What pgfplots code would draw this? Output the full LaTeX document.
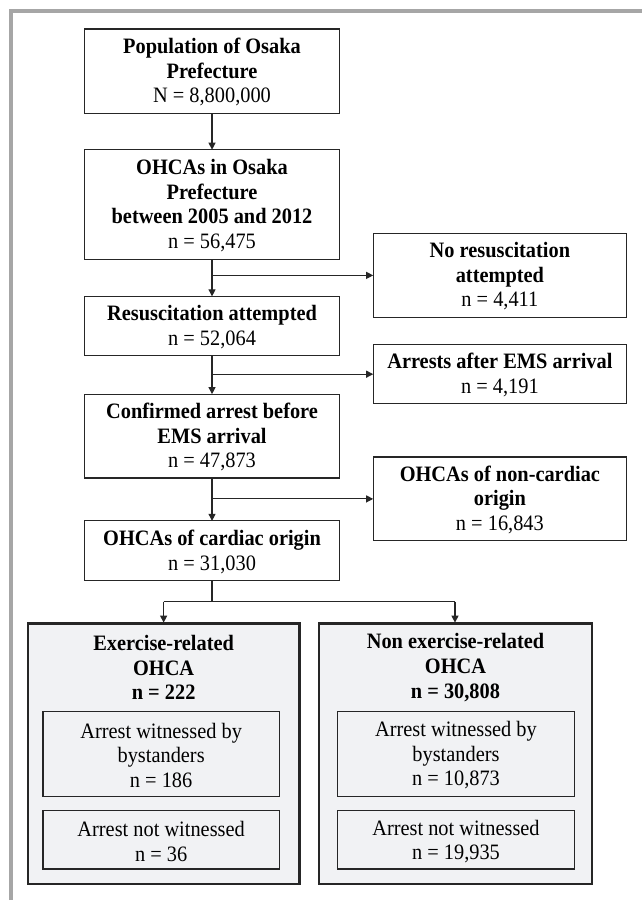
\documentclass[border=0pt]{standalone}
\usepackage{fontspec}
\setmainfont{Liberation Serif}
\usepackage{pgfplots}
\pgfplotsset{compat=1.18}
\usetikzlibrary{arrows.meta}
\definecolor{FrameGray}{HTML}{A6A6A6}
\definecolor{BoxFill}{HTML}{F1F2F4}
\definecolor{LineDark}{HTML}{262626}
\tikzset{
  box/.style={draw=LineDark, line width=0.6pt},
  bigbox/.style={draw=LineDark, line width=1.2pt, fill=BoxFill},
  inbox/.style={draw=LineDark, line width=0.6pt, fill=BoxFill},
  txt/.style={font=\fontsize{10.2}{11.4}\selectfont, align=center, inner sep=0pt,
              yscale=1.08, transform shape},
  arr/.style={-{Triangle[length=3.5pt,width=3.5pt]}, line width=0.55pt, LineDark},
  ln/.style={line width=0.55pt, LineDark},
}
\begin{document}
\begin{tikzpicture}
\begin{axis}[
  width=321.5pt, height=451pt, scale only axis,
  xmin=0, xmax=643, ymin=0, ymax=902, y dir=reverse,
  hide axis, clip=false]
% background and outer frame
\fill[white] (0,0) rectangle (643,902);
\draw[FrameGray, line width=2pt] (11,902) -- (11,11) -- (643,11);

% main column
\draw[box] (85,29) rectangle (340,114);
\node[txt] at (212.5,72.5) {\textbf{Population of Osaka}\\\textbf{Prefecture}\\N = 8,800,000};
\draw[box] (85,150) rectangle (340,260);
\node[txt] at (212.5,206) {\textbf{OHCAs in Osaka}\\\textbf{Prefecture}\\\textbf{between 2005 and 2012}\\n = 56,475};
\draw[box] (85,297) rectangle (340,356);
\node[txt] at (212.5,327.5) {\textbf{Resuscitation attempted}\\n = 52,064};
\draw[box] (85,395) rectangle (340,479);
\node[txt] at (212.5,438) {\textbf{Confirmed arrest before}\\\textbf{EMS arrival}\\n = 47,873};
\draw[box] (85,522) rectangle (340,582);
\node[txt] at (212.5,553) {\textbf{OHCAs of cardiac origin}\\n = 31,030};

% exclusions
\draw[box] (374,234) rectangle (628,318);
\node[txt] at (501,277) {\textbf{No resuscitation}\\\textbf{attempted}\\n = 4,411};
\draw[box] (374,345) rectangle (628,404);
\node[txt] at (501,375.5) {\textbf{Arrests after EMS arrival}\\n = 4,191};
\draw[box] (374,458) rectangle (628,542);
\node[txt] at (501,501) {\textbf{OHCAs of non-cardiac}\\\textbf{origin}\\n = 16,843};

% arrows
\draw[arr] (212.5,114) -- (212.5,150);
\draw[arr] (212.5,260) -- (212.5,297);
\draw[arr] (212.5,276) -- (374,276);
\draw[arr] (212.5,356) -- (212.5,395);
\draw[arr] (212.5,375) -- (374,375);
\draw[arr] (212.5,479) -- (212.5,522);
\draw[arr] (212.5,500) -- (374,500);
\draw[ln] (212.5,582) -- (212.5,603);
\draw[ln] (164,603) -- (456,603);
\draw[arr] (164,603) -- (164,624);
\draw[arr] (456,603) -- (456,624);

% groups
\draw[bigbox] (28,625) rectangle (300,886);
\node[txt] at (164,669) {\textbf{Exercise-related}\\\textbf{OHCA}\\\textbf{n = 222}};
\draw[inbox] (43,713) rectangle (280,798);
\node[txt] at (161.5,757) {Arrest witnessed by\\bystanders\\n = 186};
\draw[inbox] (43,812) rectangle (280,871);
\node[txt] at (161.5,843.5) {Arrest not witnessed\\n = 36};

\draw[bigbox] (320,625) rectangle (593,886);
\node[txt] at (456.5,669) {\textbf{Non exercise-related}\\\textbf{OHCA}\\\textbf{n = 30,808}};
\draw[inbox] (338,713) rectangle (576,798);
\node[txt] at (457,757) {Arrest witnessed by\\bystanders\\n = 10,873};
\draw[inbox] (338,812) rectangle (576,871);
\node[txt] at (457,843.5) {Arrest not witnessed\\n = 19,935};
\end{axis}
\end{tikzpicture}
\end{document}
